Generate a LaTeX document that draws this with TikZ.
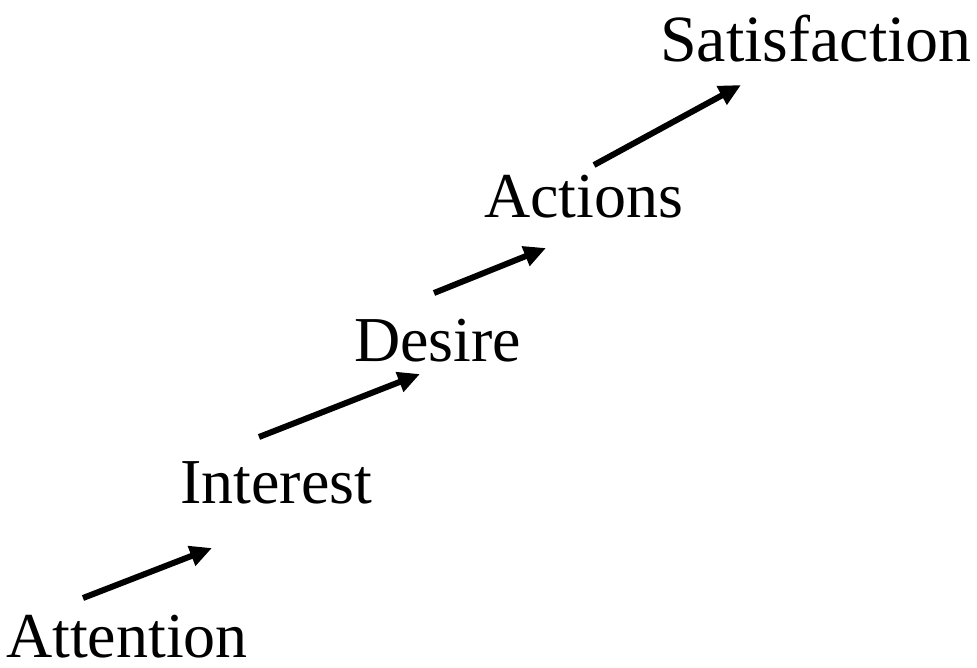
\documentclass[tikz,border=0pt]{standalone}
\usepackage{fontspec}
\setmainfont{Liberation Serif}
\usetikzlibrary{arrows.meta}
\tikzset{
  lbl/.style={anchor=base west, inner sep=0pt, font=\fontsize{64}{72}\selectfont},
  arr/.style={line width=6pt, -{Triangle[length=22pt,width=20pt]}}
}
\begin{document}
\begin{tikzpicture}[x=1pt,y=-1pt]
\useasboundingbox (0,0) rectangle (977,667);
\node[lbl] (att) at (6,657) {Attention};
\node[lbl] (int) at (180,503) {Interest};
\node[lbl] (des) at (354,361) {Desire};
\node[lbl] (act) at (484,217) {Actions};
\node[lbl, font=\fontsize{66}{74}\selectfont] (sat) at (660,61) {Satisfaction};
\coordinate (a1s) at (83,598);
\coordinate (a1e) at (212,548);
\coordinate (a2s) at (259,437);
\coordinate (a2e) at (420,374);
\coordinate (a3s) at (434,293);
\coordinate (a3e) at (546,248);
\coordinate (a4s) at (594,165);
\coordinate (a4e) at (741,85);
\draw[arr] (a1s) -- (a1e);
\draw[arr] (a2s) -- (a2e);
\draw[arr] (a3s) -- (a3e);
\draw[arr] (a4s) -- (a4e);
\end{tikzpicture}
\end{document}
